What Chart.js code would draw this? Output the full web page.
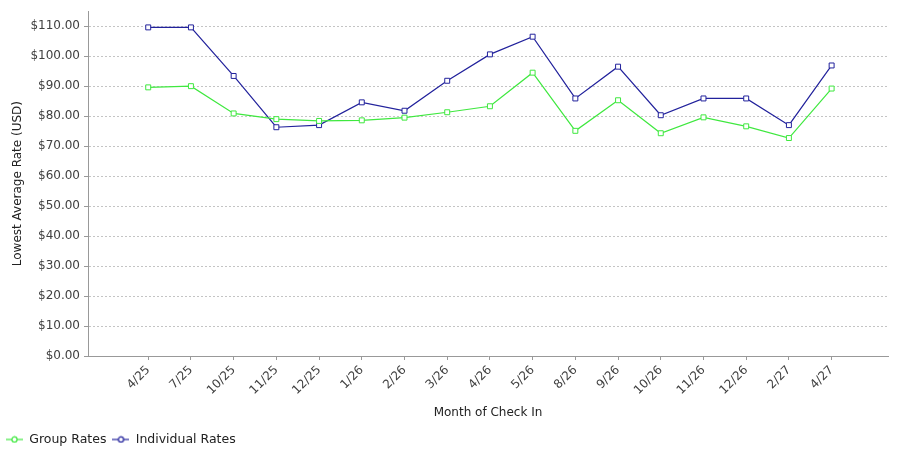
<!DOCTYPE html>
<html>
<head>
<meta charset="utf-8">
<script src="https://cdn.jsdelivr.net/npm/chart.js@4"></script>
<style>
  html, body { margin: 0; padding: 0; background: #fff; }
  #wrap { width: 900px; height: 450px; }
</style>
</head>
<body>
<div id="wrap"><canvas id="rateChart" width="900" height="450"></canvas></div>
<script>
// chart data
const months = ["4/25", "7/25", "10/25", "11/25", "12/25", "1/26", "2/26", "3/26", "4/26",
  "5/26", "8/26", "9/26", "10/26", "11/26", "12/26", "2/27", "4/27"];
const groupRates = [89.6, 90.0, 80.9, 79.0, 78.4, 78.6, 79.5, 81.3, 83.3,
  94.5, 75.1, 85.3, 74.3, 79.6, 76.6, 72.7, 89.2];
const individualRates = [109.6, 109.6, 93.4, 76.3, 77.0, 84.6, 81.8, 91.8, 100.6,
  106.5, 85.9, 96.5, 80.3, 85.9, 85.9, 77.0, 96.9];

const GREEN = "#3fe83f";
const BLUE = "#22229c";

function toPoints(values) {
  return values.map((v, i) => ({ x: i, y: v }));
}

// legend marker: short line with a small circle
function legendMarker(color) {
  const c = document.createElement("canvas");
  c.width = 17;
  c.height = 8;
  const g = c.getContext("2d");
  g.strokeStyle = color;
  g.lineWidth = 1.2;
  g.beginPath();
  g.moveTo(0, 4);
  g.lineTo(17, 4);
  g.stroke();
  g.fillStyle = "#fff";
  g.beginPath();
  g.arc(8.5, 4, 2.6, 0, Math.PI * 2);
  g.fill();
  g.stroke();
  return c;
}

const ctx = document.getElementById("rateChart").getContext("2d");

new Chart(ctx, {
  type: "line",
  data: {
    datasets: [
      {
        label: "Group Rates",
        data: toPoints(groupRates),
        borderColor: GREEN,
        backgroundColor: "#fff",
        borderWidth: 1.2,
        pointStyle: "rect",
        pointRadius: 3.5,
        pointBorderWidth: 1,
        pointBorderColor: GREEN,
        pointBackgroundColor: "#fff",
        tension: 0,
      },
      {
        label: "Individual Rates",
        data: toPoints(individualRates),
        borderColor: BLUE,
        backgroundColor: "#fff",
        borderWidth: 1.2,
        pointStyle: "rect",
        pointRadius: 3.5,
        pointBorderWidth: 1,
        pointBorderColor: BLUE,
        pointBackgroundColor: "#fff",
        tension: 0,
      },
    ],
  },
  options: {
    responsive: false,
    animation: false,
    layout: { padding: { left: 0, right: 12, top: 9, bottom: 0 } },
    scales: {
      x: {
        type: "linear",
        min: -1.41,
        max: 17.32,
        afterBuildTicks: (scale) => {
          scale.ticks = months.map((m, i) => ({ value: i }));
        },
        afterFit: (scale) => {
          scale.height = 64;
        },
        ticks: {
          autoSkip: false,
          minRotation: 45,
          maxRotation: 45,
          padding: 3,
          color: "#404040",
          font: { family: "DejaVu Sans", size: 12 },
          callback: (v) => months[v] || "",
        },
        grid: {
          drawOnChartArea: false,
          drawTicks: true,
          tickLength: 4,
          tickColor: "#999",
        },
        border: { color: "#999" },
        title: {
          display: true,
          text: "Month of Check In",
          color: "#222",
          font: { family: "DejaVu Sans", size: 12 },
          padding: { top: 0, bottom: 0 },
        },
      },
      y: {
        min: 0,
        max: 115,
        afterFit: (scale) => {
          scale.width = 88;
        },
        ticks: {
          stepSize: 10,
          includeBounds: false,
          padding: 4,
          color: "#404040",
          font: { family: "DejaVu Sans", size: 12 },
          callback: (v) => "$" + v.toFixed(2),
        },
        grid: {
          color: "#c4c4c4",
          tickLength: 4,
          tickColor: "#999",
          tickBorderDash: [],
        },
        border: { color: "#999", dash: [2, 2] },
        title: {
          display: true,
          text: "Lowest Average Rate (USD)",
          color: "#222",
          font: { family: "DejaVu Sans", size: 12 },
          padding: { top: 11, bottom: 0 },
        },
      },
    },
    plugins: {
      tooltip: { enabled: false },
      legend: {
        position: "bottom",
        align: "start",
        maxHeight: 30,
        title: {
          display: true,
          text: "",
          font: { size: 1 },
          padding: { top: 0, bottom: 6 },
        },
        labels: {
          usePointStyle: true,
          pointStyleWidth: 17,
          padding: 6,
          boxHeight: 8,
          color: "#222",
          font: { family: "DejaVu Sans", size: 12.5 },
          generateLabels: (chart) =>
            chart.data.datasets.map((ds, i) => ({
              text: ds.label,
              pointStyle: legendMarker(ds.borderColor),
              fillStyle: "#fff",
              strokeStyle: ds.borderColor,
              lineWidth: 0,
              hidden: false,
              datasetIndex: i,
              fontColor: "#222",
            })),
        },
      },
    },
  },
});
</script>
</body>
</html>
